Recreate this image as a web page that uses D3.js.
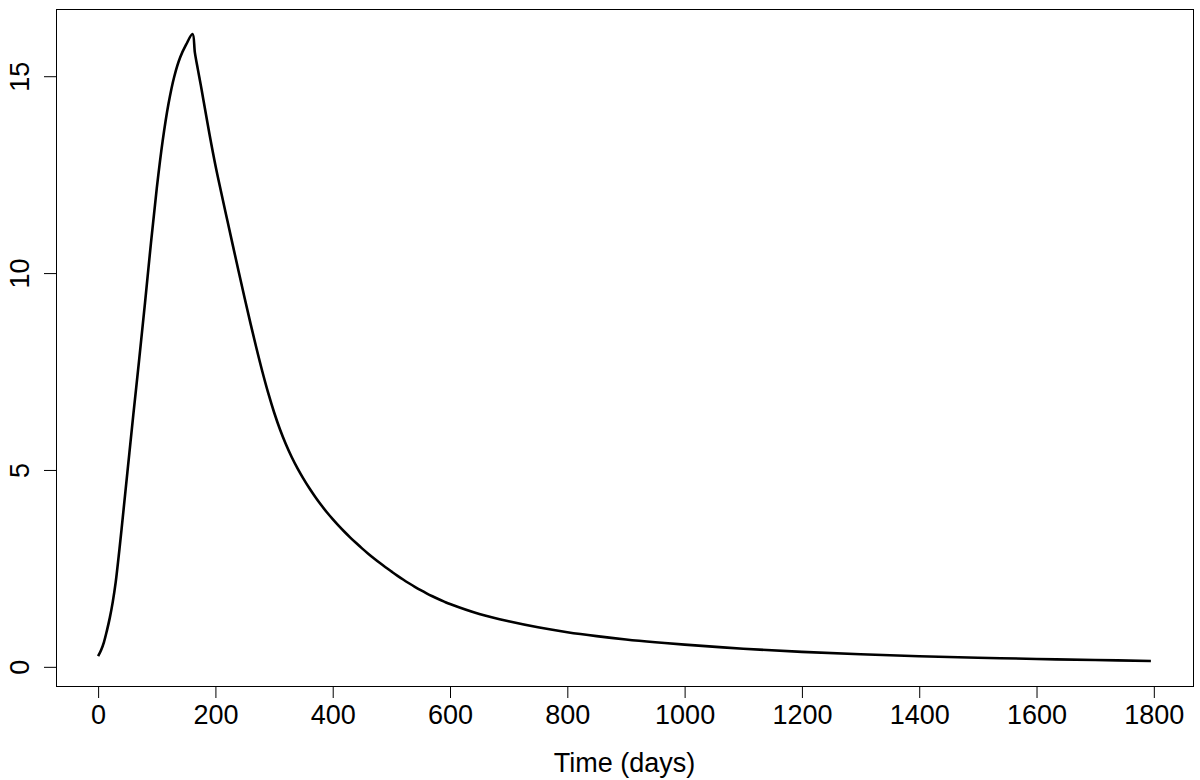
<!DOCTYPE html>
<html>
<head>
<meta charset="utf-8">
<script src="https://cdn.jsdelivr.net/npm/d3@7"></script>
<style>
  body { margin: 0; background: #fff; }
  text { font-family: "Liberation Sans", Arial, Helvetica, sans-serif; fill: #000; }
</style>
</head>
<body>
<script>
var fullWidth = 1200
var fullHeight = 780
var margin = { top: 9, right: 7, bottom: 94, left: 56 }

// time (days) and value
var days = [0, 5, 10, 15, 20, 25, 30, 35, 40, 50, 60, 70, 80, 90, 100, 110, 120, 130, 140, 150, 161,
  165, 170, 175, 180, 190, 200, 210, 220, 230, 240, 250, 260, 270, 280, 290, 300, 310, 320, 330, 340,
  350, 360, 370, 380, 390, 400, 410, 420, 430, 440, 450, 460, 470, 480, 490, 500, 510, 520, 530, 540,
  550, 560, 570, 580, 590, 600, 650, 700, 750, 800, 850, 900, 950, 1000, 1100, 1200, 1300, 1400, 1500,
  1600, 1700, 1795]
var values = [0.27, 0.42, 0.63, 0.92, 1.25, 1.65, 2.15, 2.8, 3.5, 4.95, 6.4, 7.8, 9.25, 10.75, 12.15, 13.35, 14.3, 15.0, 15.48, 15.8, 16.07,
  15.6, 15.18, 14.78, 14.36, 13.52, 12.74, 12.04, 11.36, 10.685, 10.015, 9.355, 8.71, 8.09, 7.5, 6.955, 6.465, 6.035, 5.66, 5.33, 5.04,
  4.78, 4.54, 4.32, 4.115, 3.925, 3.75, 3.585, 3.43, 3.283, 3.143, 3.009, 2.881, 2.759, 2.642, 2.53, 2.423, 2.318, 2.218, 2.123, 2.033,
  1.948, 1.868, 1.793, 1.722, 1.656, 1.594, 1.341, 1.155, 1.003, 0.88, 0.78, 0.695, 0.625, 0.565, 0.46, 0.38, 0.318, 0.27, 0.232,
  0.2, 0.173, 0.15]

var xTicks = [0, 200, 400, 600, 800, 1000, 1200, 1400, 1600, 1800]
var yTicks = [0, 5, 10, 15]
var xLabel = 'Time (days)'

var data = days.map((d, i) => ({ t: d, v: values[i] }))

// R style: data range padded by 4% on each side
function pad(ext) {
  var r = ext[1] - ext[0]
  return [ext[0] - 0.04 * r, ext[1] + 0.04 * r]
}

var svg = d3
  .select('body')
  .append('svg')
  .attr('width', fullWidth)
  .attr('height', fullHeight)

var x = d3.scaleLinear()
  .domain(pad(d3.extent(days)))
  .range([margin.left, fullWidth - margin.right])

var y = d3.scaleLinear()
  .domain(pad(d3.extent(values)))
  .range([fullHeight - margin.bottom, margin.top])

var bottom = fullHeight - margin.bottom

// x axis
var xAxis = svg.append('g')
  .attr('transform', 'translate(0,' + bottom + ')')
  .call(d3.axisBottom(x).tickValues(xTicks).tickFormat(d3.format('d'))
    .tickSize(12).tickSizeOuter(0).tickPadding(7))
xAxis.select('.domain')
  .attr('d', 'M' + x(xTicks[0]) + ',0.5H' + x(xTicks[xTicks.length - 1]))
xAxis.selectAll('text').style('font-size', '27px')

// y axis, labels turned like R's las=0
var yAxis = svg.append('g')
  .attr('transform', 'translate(' + margin.left + ',0)')
  .call(d3.axisLeft(y).tickValues(yTicks).tickFormat(d3.format('d')).tickSize(12).tickSizeOuter(0))
yAxis.select('.domain').remove()
yAxis.selectAll('.tick text')
  .attr('x', null)
  .attr('dy', null)
  .attr('text-anchor', 'middle')
  .attr('transform', 'translate(-27,0) rotate(-90)')
  .style('font-size', '27px')

// box round the plot
svg.append('rect')
  .attr('x', margin.left + 0.5)
  .attr('y', margin.top + 0.5)
  .attr('width', fullWidth - margin.left - margin.right)
  .attr('height', fullHeight - margin.top - margin.bottom)
  .attr('fill', 'none')
  .attr('stroke', '#000')
  .attr('stroke-width', 1)

var line = d3.line()
  .x((d) => x(d.t))
  .y((d) => y(d.v))
  .curve(d3.curveCatmullRom.alpha(0.5))

svg.append('path')
  .datum(data)
  .attr('fill', 'none')
  .attr('stroke', '#000')
  .attr('stroke-width', 2.6)
  .attr('stroke-linejoin', 'round')
  .attr('d', line)

svg.append('text')
  .attr('x', (margin.left + fullWidth - margin.right) / 2)
  .attr('y', 772)
  .attr('text-anchor', 'middle')
  .style('font-size', '27px')
  .text(xLabel)
</script>
</body>
</html>
